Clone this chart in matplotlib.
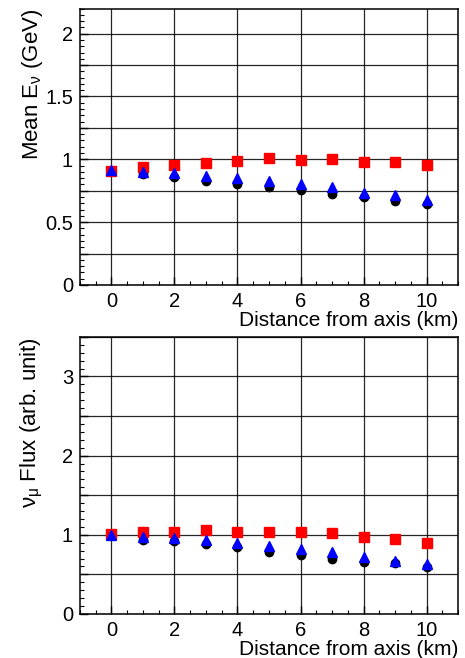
import matplotlib.pyplot as plt
import numpy as np
from matplotlib.ticker import MultipleLocator

plt.rcParams['font.family'] = ['Liberation Sans', 'DejaVu Sans']
plt.rcParams['mathtext.fontset'] = 'custom'
plt.rcParams['mathtext.rm'] = 'Liberation Sans'
plt.rcParams['mathtext.it'] = 'Liberation Sans'

distance = [0, 1, 2, 3, 4, 5, 6, 7, 8, 9, 10]

# mean neutrino energy (GeV)
energy_red = [0.908, 0.935, 0.954, 0.969, 0.983, 1.007, 0.993, 1.001, 0.977, 0.975, 0.951]
energy_blue = [0.911, 0.900, 0.890, 0.868, 0.850, 0.830, 0.800, 0.780, 0.735, 0.717, 0.677]
energy_black = [0.905, 0.882, 0.858, 0.826, 0.802, 0.778, 0.757, 0.725, 0.701, 0.667, 0.645]

# numu flux (arb. unit)
flux_red = [1.01, 1.03, 1.03, 1.06, 1.03, 1.04, 1.03, 1.02, 0.97, 0.95, 0.89]
flux_blue = [1.00, 0.97, 0.96, 0.94, 0.89, 0.855, 0.82, 0.78, 0.72, 0.67, 0.63]
flux_black = [1.00, 0.93, 0.92, 0.88, 0.85, 0.78, 0.74, 0.69, 0.655, 0.645, 0.59]

fig = plt.figure(figsize=(4.65, 6.58), dpi=100)
ax1 = fig.add_axes([0.172, 0.567, 0.813, 0.420])
ax2 = fig.add_axes([0.172, 0.067, 0.813, 0.421])


def style(ax, ymax, ylab, ygrid, yminor, ylabel):
    ax.set_xlim(-1, 11)
    ax.set_ylim(0, ymax)
    ax.xaxis.set_major_locator(MultipleLocator(2))
    ax.xaxis.set_minor_locator(MultipleLocator(0.5))
    ax.yaxis.set_minor_locator(MultipleLocator(yminor))
    ax.set_yticks(np.arange(0, ymax + 1e-9, ygrid))
    labels = []
    for v in np.arange(0, ymax + 1e-9, ygrid):
        if abs(v / ylab - round(v / ylab)) < 1e-6:
            labels.append('%g' % v)
        else:
            labels.append('')
    ax.set_yticklabels(labels)
    ax.grid(True, which='major', color='black', linewidth=0.9, alpha=0.85)
    ax.tick_params(direction='in', which='major', length=6, width=1, labelsize=14.5,
                   top=False, right=False, pad=5)
    ax.tick_params(direction='in', which='minor', length=3, width=0.8,
                   top=False, right=False)
    for s in ax.spines.values():
        s.set_linewidth(1.1)
    ax.set_xlabel('Distance from axis (km)', fontsize=15, loc='right', labelpad=0)
    ax.set_ylabel(ylabel, fontsize=16, loc='top')
    ax.yaxis.set_label_coords(-0.092, 1.0)
    ax.set_axisbelow(True)


style(ax1, 2.2, 0.5, 0.25, 0.05, r'Mean E$_{\nu}$ (GeV)')
style(ax2, 3.5, 1, 0.5, 0.1, r'$\nu_{\mu}$ Flux (arb. unit)')

for ax, black, red, blue in [(ax1, energy_black, energy_red, energy_blue),
                             (ax2, flux_black, flux_red, flux_blue)]:
    ax.plot(distance, black, 'o', color='black', markersize=6, zorder=3)
    ax.plot(distance, red, 's', color='red', markersize=7, zorder=4)
    ax.plot(distance, blue, '^', color='blue', markersize=6.5, zorder=5)

plt.savefig('out.png', dpi=100)
